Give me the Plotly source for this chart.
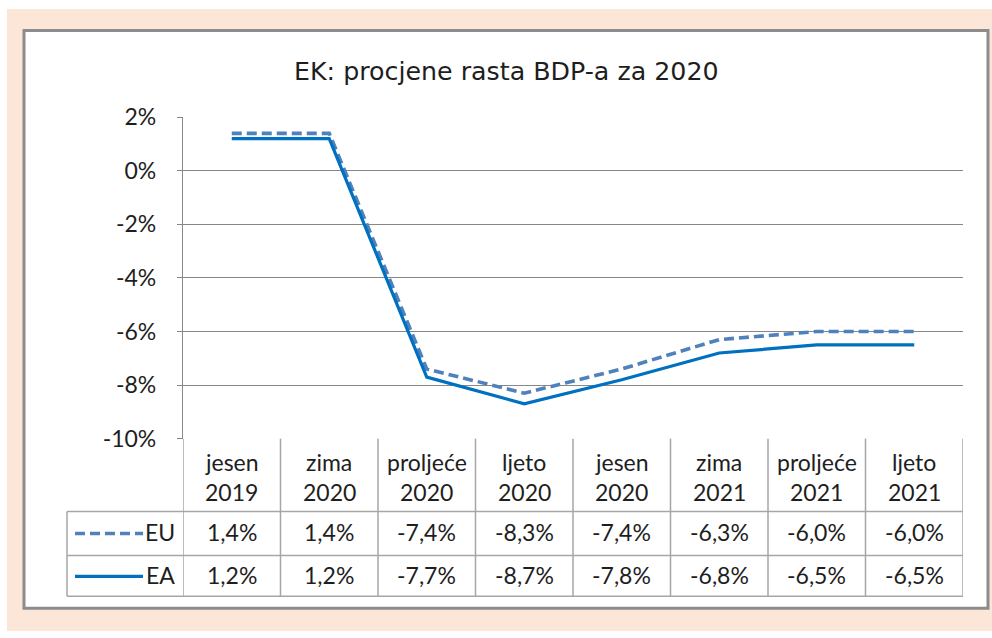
import plotly.graph_objects as go

# ---- data ----
cat_line1 = ["jesen", "zima", "proljeće", "ljeto", "jesen", "zima", "proljeće", "ljeto"]
cat_line2 = ["2019", "2020", "2020", "2020", "2020", "2021", "2021", "2021"]
eu = [1.4, 1.4, -7.4, -8.3, -7.4, -6.3, -6.0, -6.0]
ea = [1.2, 1.2, -7.7, -8.7, -7.8, -6.8, -6.5, -6.5]
y_ticks = [2, 0, -2, -4, -6, -8, -10]
title_text = "EK: procjene rasta BDP-a za 2020"

W, H = 992, 638
# vertical placement helper (screen row -> paper fraction)
V_OFF, V_SCALE = 13.5, 0.958
def px(x):
    return x / W
def py(y):
    return 1 - ((y - V_OFF) / V_SCALE) / H

EU_COLOR = "#4F81BD"
EA_COLOR = "#0070C0"
GRID = "#878787"
TBL = "#A6A6A6"
TXT = "#1E1E1E"
FONT = "Lato"

xs = list(range(len(cat_line1)))

fig = go.Figure()
fig.add_trace(go.Scatter(x=xs, y=eu, mode="lines", name="EU",
                         line=dict(color=EU_COLOR, width=3.6, dash="10px,5px"),
                         hoverinfo="skip"))
fig.add_trace(go.Scatter(x=xs, y=ea, mode="lines", name="EA",
                         line=dict(color=EA_COLOR, width=3.2),
                         hoverinfo="skip"))

shapes = []
# background panels
shapes.append(dict(type="rect", xref="paper", yref="paper", x0=px(7), x1=px(995),
                   y0=1.01, y1=-0.01, fillcolor="#FBE6D8", line=dict(width=0), layer="below"))
shapes.append(dict(type="rect", xref="paper", yref="paper", x0=px(24), x1=px(988),
                   y0=py(29), y1=py(608), fillcolor="white",
                   line=dict(color="#8C8C8C", width=3), layer="below"))

# table grid
hdr_top, row1, row2, row3 = 438, 511, 555, 596
for k in range(len(xs) + 1):
    shapes.append(dict(type="line", xref="x", yref="paper", x0=k - 0.5, x1=k - 0.5,
                       y0=py(hdr_top), y1=py(row3), line=dict(color=TBL, width=1.5)))
shapes.append(dict(type="line", xref="paper", yref="paper", x0=px(67), x1=px(67),
                   y0=py(row1), y1=py(row3), line=dict(color=TBL, width=1.5)))
for yy in (row1, row2, row3):
    shapes.append(dict(type="line", xref="paper", yref="paper",
                       x0=px(67), x1=px(963), y0=py(yy), y1=py(yy),
                       line=dict(color=TBL, width=1.5)))
# legend keys
shapes.append(dict(type="line", xref="paper", yref="paper", x0=px(75), x1=px(143),
                   y0=py(533), y1=py(533), line=dict(color=EU_COLOR, width=3.6, dash="10px,5px")))
shapes.append(dict(type="line", xref="paper", yref="paper", x0=px(75), x1=px(143),
                   y0=py(576), y1=py(576), line=dict(color=EA_COLOR, width=3.2)))

ann = []
ann.append(dict(text=title_text, xref="paper", yref="paper", x=px(506), y=py(70),
                showarrow=False, font=dict(family="DejaVu Sans", size=25.3, color=TXT),
                xanchor="center", yanchor="middle"))

def fmt(v):
    return f"{v:.1f}%".replace(".", ",")

tfont = dict(family=FONT, size=23, color=TXT)
for i in xs:
    ann.append(dict(text=cat_line1[i], xref="x", yref="paper", x=i, y=py(461),
                    showarrow=False, font=tfont, xanchor="center", yanchor="middle"))
    ann.append(dict(text=cat_line2[i], xref="x", yref="paper", x=i, y=py(491),
                    showarrow=False, font=tfont, xanchor="center", yanchor="middle"))
    ann.append(dict(text=fmt(eu[i]), xref="x", yref="paper", x=i, y=py(532),
                    showarrow=False, font=tfont, xanchor="center", yanchor="middle"))
    ann.append(dict(text=fmt(ea[i]), xref="x", yref="paper", x=i, y=py(575),
                    showarrow=False, font=tfont, xanchor="center", yanchor="middle"))
ann.append(dict(text="EU", xref="paper", yref="paper", x=px(177), y=py(532),
                showarrow=False, font=tfont, xanchor="right", yanchor="middle"))
ann.append(dict(text="EA", xref="paper", yref="paper", x=px(177), y=py(575),
                showarrow=False, font=tfont, xanchor="right", yanchor="middle"))

fig.update_layout(
    width=W, height=H,
    margin=dict(l=0, r=0, t=0, b=0),
    paper_bgcolor="white",
    plot_bgcolor="rgba(0,0,0,0)",
    showlegend=False,
    shapes=shapes,
    annotations=ann,
    xaxis=dict(domain=[px(183), px(963)], range=[-0.5, len(xs) - 0.5],
               showgrid=False, zeroline=False, showticklabels=False, showline=False,
               fixedrange=True),
    yaxis=dict(domain=[py(438), py(116)], range=[-10, 2],
               tickvals=y_ticks, ticktext=[f"{v}%" for v in y_ticks],
               showgrid=True, gridcolor=GRID, gridwidth=1.2,
               zeroline=False, showline=True, linecolor=GRID, linewidth=1.2,
               ticks="outside", ticklen=5, tickcolor=GRID, tickwidth=1.2,
               ticklabelstandoff=16,
               tickfont=dict(family=FONT, size=23, color=TXT), fixedrange=True),
)

fig.write_html("out.html", config={"displayModeBar": False},
               post_script="document.body.style.margin='0';document.body.style.padding='0';document.body.style.overflow='hidden';")
